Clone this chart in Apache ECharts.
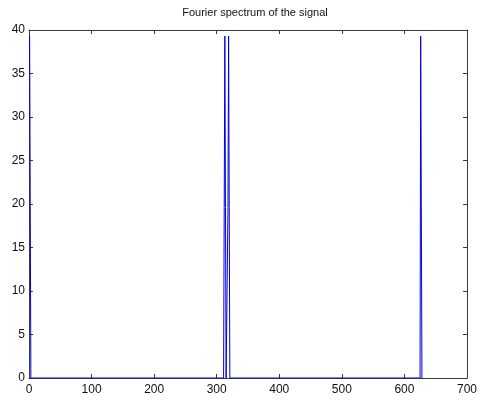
<!DOCTYPE html>
<html>
    <head>
        <meta charset="UTF-8">
        <title>Fourier spectrum of the signal</title>
        <style type="text/css">
            body,html{ margin: 0; padding: 0; width: 100vw; height: 100vh; overflow: hidden; background: #fff;}
            .chart-box{ width: 480px; height: 403px;}
        </style>
    </head>
    <body>
        <div class="chart-box" id="chart"></div>

        <script src="https://cdn.jsdelivr.net/npm/echarts@6/dist/echarts.min.js"></script>
        <script type="text/javascript">
            // spectrum points (bin index, magnitude); the flat parts between are zero
            var bins = [1, 2, 3, 311, 312, 313, 314, 315, 317, 318, 319, 320, 321, 625, 626, 627, 628, 629];
            var magnitude = [39.3, 19.6, 0, 0, 19.6, 39.3, 19.6, 0, 0, 19.6, 39.3, 19.6, 0, 0, 39.3, 19.6, 0, 0];
            var xTicks = [0, 100, 200, 300, 400, 500, 600, 700];
            var yTicks = [0, 5, 10, 15, 20, 25, 30, 35, 40];

            var axisColor = '#3a3a3a';
            var labelFont = { color: '#111', fontSize: 12, fontFamily: 'Liberation Sans, Arial, sans-serif' };

            var chart = echarts.init(document.getElementById('chart'));

            function xAxis(pos, showLabel) {
                return {
                    type: 'value', position: pos,
                    min: xTicks[0], max: xTicks[xTicks.length - 1], interval: 100,
                    axisLine: { show: true, onZero: false, lineStyle: { color: axisColor, width: 1 } },
                    axisTick: { show: true, inside: true, length: 4, lineStyle: { color: axisColor } },
                    axisLabel: Object.assign({ show: showLabel, margin: 6 }, labelFont),
                    splitLine: { show: false }
                };
            }
            function yAxis(pos, showLabel) {
                return {
                    type: 'value', position: pos,
                    min: yTicks[0], max: yTicks[yTicks.length - 1], interval: 5,
                    axisLine: { show: true, onZero: false, lineStyle: { color: axisColor, width: 1 } },
                    axisTick: { show: true, inside: true, length: 4, lineStyle: { color: axisColor } },
                    axisLabel: Object.assign({ show: showLabel, margin: 4 }, labelFont),
                    splitLine: { show: false }
                };
            }

            var option = {
                animation: false,
                backgroundColor: '#fff',
                title: {
                    text: 'Fourier spectrum of the signal',
                    left: 250, top: 2, textAlign: 'center',
                    textStyle: { color: '#111', fontSize: 11, fontWeight: 'normal', fontFamily: 'Liberation Sans, Arial, sans-serif' }
                },
                grid: { left: 29, right: 9, top: 30, bottom: 25 },
                xAxis: [xAxis('bottom', true), xAxis('top', false)],
                yAxis: [yAxis('left', true), yAxis('right', false)],
                series: [{
                    type: 'line',
                    xAxisIndex: 0, yAxisIndex: 0,
                    data: bins.map(function (b, i) { return [b, magnitude[i]]; }),
                    showSymbol: false,
                    lineStyle: { color: '#0000dd', width: 1 },
                    z: 1
                }]
            };

            chart.setOption(option);
        </script>
    </body>
</html>
